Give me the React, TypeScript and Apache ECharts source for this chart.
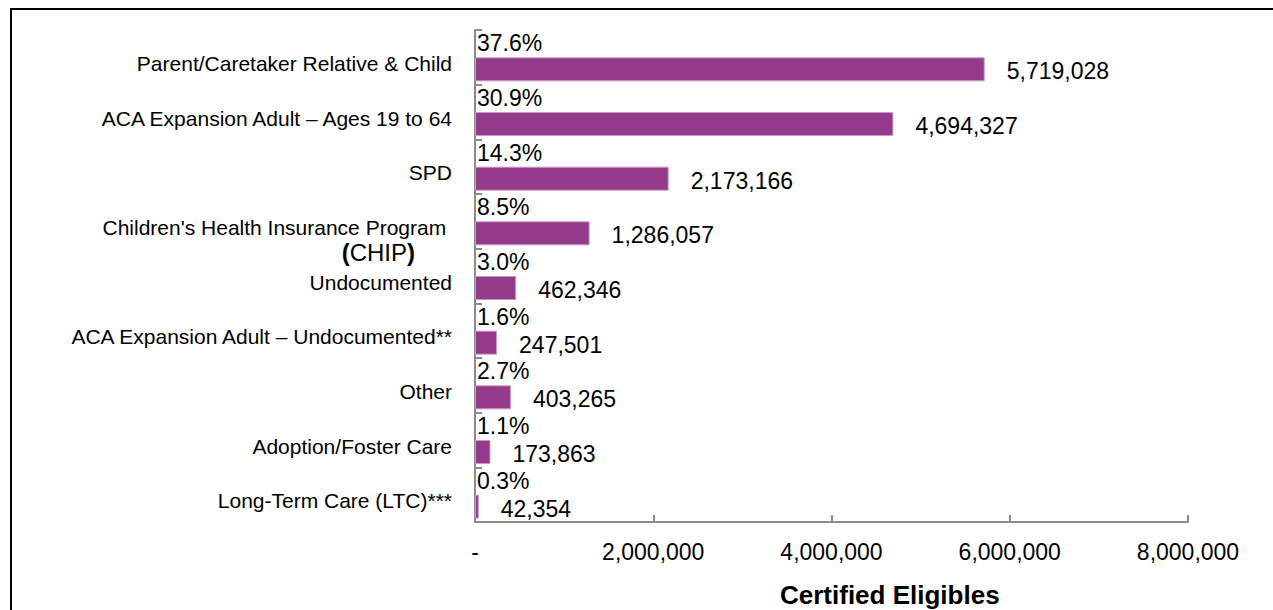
import React, { useEffect, useRef } from 'react';
import * as echarts from 'echarts';

const categories = [
  'Parent/Caretaker Relative & Child',
  'ACA Expansion Adult – Ages 19 to 64',
  'SPD',
  "Children's Health Insurance Program (CHIP)",
  'Undocumented',
  'ACA Expansion Adult – Undocumented**',
  'Other',
  'Adoption/Foster Care',
  'Long-Term Care (LTC)***',
];
const eligibles = [5719028, 4694327, 2173166, 1286057, 462346, 247501, 403265, 173863, 42354];
const shares = ['37.6%', '30.9%', '14.3%', '8.5%', '3.0%', '1.6%', '2.7%', '1.1%', '0.3%'];
const xMin = 0;
const xMax = 8000000;
const xStep = 2000000;
const axisTitle = 'Certified Eligibles';

const SANS = "'Liberation Sans', Arial, sans-serif";
const fmt = (v: number) => v.toLocaleString('en-US');

export default function App() {
  const ref = useRef<HTMLDivElement>(null);
  useEffect(() => {
    if (!ref.current) return;
    const chart = echarts.init(ref.current, undefined, { renderer: 'svg' });
    const yData = categories.map((c) =>
      c.indexOf('(CHIP)') >= 0
        ? { value: c, textStyle: { padding: [38, 0, 0, 0] } }
        : { value: c }
    );
    chart.setOption({
      animation: false,
      backgroundColor: '#ffffff',
      title: {
        text: axisTitle,
        left: 775,
        top: 577,
        textStyle: { fontFamily: SANS, fontWeight: 'bold', fontSize: 26, color: '#000' },
      },
      graphic: [
        {
          type: 'rect',
          shape: { x: 11, y: 9, width: 1600, height: 1000 },
          style: { fill: 'none', stroke: '#000', lineWidth: 2 },
          silent: true,
        },
      ],
      grid: { left: 475, right: 85, top: 30, bottom: 88, containLabel: false, outerBoundsMode: 'none' },
      xAxis: {
        type: 'value',
        min: xMin,
        max: xMax,
        interval: xStep,
        splitLine: { show: false },
        axisLine: { show: true, lineStyle: { color: '#8c8c8c', width: 2 } },
        axisTick: { show: true, inside: true, length: 7, lineStyle: { color: '#8c8c8c', width: 2 } },
        axisLabel: {
          margin: 18,
          fontFamily: SANS,
          fontSize: 23,
          color: '#000',
          formatter: (v: number) => (v === 0 ? '-' : fmt(v)),
        },
      },
      yAxis: {
        type: 'category',
        inverse: true,
        data: yData,
        axisLine: { show: true, lineStyle: { color: '#8c8c8c', width: 2 } },
        axisTick: { show: true, inside: true, length: 7, lineStyle: { color: '#8c8c8c', width: 2 } },
        axisLabel: {
          margin: 23,
          fontFamily: SANS,
          fontSize: 21,
          color: '#000',
          padding: [12, 0, 0, 0],
          formatter: (v: string) => {
            if (v.indexOf('(CHIP)') >= 0) {
              const head = v.replace(' (CHIP)', '');
              return `{n|${head} }\n{b|(}{w|CHIP}{b|)}{s| }`;
            }
            return v;
          },
          rich: {
            n: { fontFamily: SANS, fontSize: 21, color: '#000', lineHeight: 25 },
            b: { fontFamily: SANS, fontSize: 24, fontWeight: 'bold', color: '#000', lineHeight: 25 },
            w: { fontFamily: SANS, fontSize: 24, color: '#000', lineHeight: 25 },
            s: { fontFamily: SANS, fontSize: 24, width: 37, lineHeight: 25 },
          },
        },
      },
      series: [
        {
          name: 'share',
          type: 'bar',
          barWidth: 24,
          barGap: '0%',
          silent: true,
          data: eligibles,
          itemStyle: { color: 'rgba(0,0,0,0)' },
          label: {
            show: true,
            position: 'insideLeft',
            distance: 2,
            offset: [0, -2],
            fontFamily: SANS,
            fontSize: 23,
            color: '#000',
            formatter: (p: any) => shares[p.dataIndex],
          },
        },
        {
          name: 'Certified Eligibles',
          type: 'bar',
          barWidth: 24,
          barGap: '0%',
          data: eligibles,
          itemStyle: { color: '#953a8b', borderColor: '#c99ac4', borderWidth: 1 },
          label: {
            show: true,
            position: 'right',
            distance: 22,
            offset: [0, 2],
            fontFamily: SANS,
            fontSize: 23,
            color: '#000',
            formatter: (p: any) => fmt(p.value),
          },
        },
      ],
    });
    return () => chart.dispose();
  }, []);
  return (
    <div
      ref={ref}
      style={{ position: 'fixed', left: 0, top: 0, width: 1273, height: 610, background: '#fff' }}
    />
  );
}
